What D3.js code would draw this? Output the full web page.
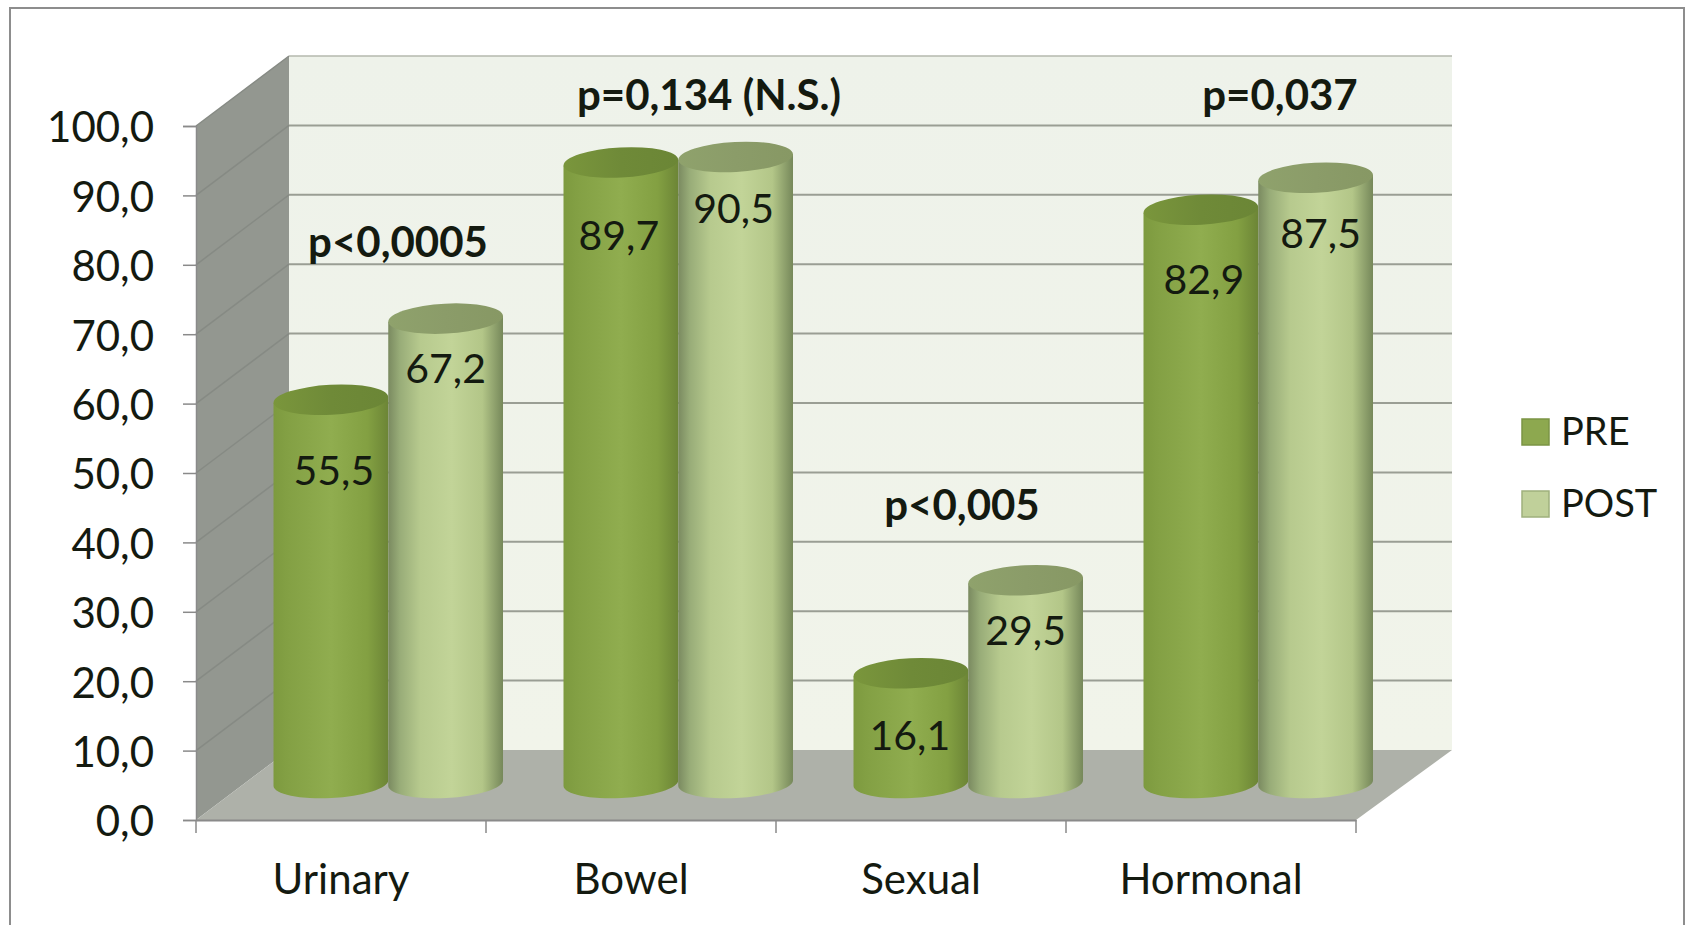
<!DOCTYPE html>
<html>
<head>
<meta charset="utf-8">
<script src="https://cdn.jsdelivr.net/npm/d3@7/dist/d3.min.js"></script>
<style>
  html, body { margin: 0; padding: 0; background: #fff; }
  svg { display: block; }
  text { font-family: Lato, "Open Sans", sans-serif; fill: #141a10; }
</style>
</head>
<body>
<svg id="chart" width="1692" height="925"></svg>
<script>
// Category and series values
const categories = ["Urinary", "Bowel", "Sexual", "Hormonal"];
const seriesNames = ["PRE", "POST"];
const preValues = [55.5, 89.7, 16.1, 82.9];
const postValues = [67.2, 90.5, 29.5, 87.5];
const yTicks = [0, 10, 20, 30, 40, 50, 60, 70, 80, 90, 100];
const pLabels = ["p<0,0005", "p=0,134 (N.S.)", "p<0,005", "p=0,037"];

const fmt = v => v.toFixed(1).replace(".", ",");

// Layout of the pseudo-3D box
const W = 1692, H = 925;
const depth = { x: 93, y: -70 };
const backRightExtra = 3;
const svg = d3.select("#chart");
const x = d3.scaleBand().domain(categories).range([196, 1356]);
const y = d3.scaleLinear().domain([0, 100]).range([820, 126]);
const inner = d3.scaleBand().domain(seriesNames).range([31, 260.5]);

const defs = svg.append("defs");
function hGrad(id, stops) {
  const g = defs.append("linearGradient").attr("id", id);
  stops.forEach(([o, c]) => g.append("stop").attr("offset", o).attr("stop-color", c));
}
hGrad("gPRE", [[0, "#7d9a3f"], [0.12, "#83a044"], [0.5, "#90ad4f"], [0.82, "#83a042"], [1, "#6c8536"]]);
hGrad("gPOST", [[0, "#7a8a60"], [0.1, "#98ac78"], [0.28, "#b7ca8e"], [0.55, "#c2d498"], [0.82, "#b3c688"], [1, "#76885a"]]);
hGrad("gCapPRE", [[0, "#7a963c"], [0.5, "#6f8a38"], [1, "#6b8636"]]);
hGrad("gCapPOST", [[0, "#8fa26c"], [0.5, "#8b9c69"], [1, "#879864"]]);
const wall = defs.append("linearGradient").attr("id", "gWall").attr("x1", 0).attr("x2", 0).attr("y1", 0).attr("y2", 1);
wall.append("stop").attr("offset", 0).attr("stop-color", "#eef2ea");
wall.append("stop").attr("offset", 1).attr("stop-color", "#f1f4ea");

// Outer frame, open along the bottom edge
svg.append("path")
  .attr("d", `M10,${H}V8H1684V${H}`)
  .attr("fill", "none").attr("stroke", "#8d8d8d").attr("stroke-width", 2);

const x0 = x.range()[0], x1 = x.range()[1];
const pt = (px, v, back) => [px + (back ? depth.x : 0), y(v) + (back ? depth.y : 0)];
const poly = pts => "M" + pts.map(p => p.join(",")).join("L") + "Z";
const xBackRight = x1 + backRightExtra;

// Side wall, back wall, floor
svg.append("path").attr("fill", "#939790")
  .attr("d", poly([pt(x0, 0), pt(x0, 100), pt(x0, 100, true), pt(x0, 0, true)]));
svg.append("path").attr("fill", "url(#gWall)")
  .attr("d", poly([pt(x0, 0, true), pt(x0, 100, true), pt(xBackRight, 100, true), pt(xBackRight, 0, true)]));
svg.append("path").attr("fill", "#aeb1a9")
  .attr("d", poly([pt(x0, 0), pt(x0, 0, true), pt(xBackRight, 0, true), pt(x1, 0)]));

// Gridlines running along the side wall and across the back wall
const gridColor = "#9a9e94";
yTicks.forEach(t => {
  const a = pt(x0, t), b = pt(x0, t, true), c = pt(xBackRight, t, true);
  if (t > 0) {
    svg.append("line").attr("x1", a[0]).attr("y1", a[1]).attr("x2", b[0]).attr("y2", b[1])
      .attr("stroke", "#868a84").attr("stroke-width", 1.5);
  }
  if (t > 0 && t < 100) {
    svg.append("line").attr("x1", b[0]).attr("y1", b[1]).attr("x2", c[0]).attr("y2", c[1])
      .attr("stroke", gridColor).attr("stroke-width", 2);
  }
});
svg.append("line").attr("x1", pt(x0, 100, true)[0]).attr("x2", pt(xBackRight, 100, true)[0])
  .attr("y1", pt(x0, 100, true)[1]).attr("y2", pt(xBackRight, 100, true)[1])
  .attr("stroke", "#b4b8ae").attr("stroke-width", 1.5);

// Axes
const axisColor = "#8a8a8a";
const yAxis = svg.append("g").attr("transform", `translate(${x0},0)`)
  .call(d3.axisLeft(y).tickValues(yTicks).tickFormat(fmt).tickSize(13).tickPadding(29));
yAxis.select(".domain").attr("stroke", axisColor).attr("stroke-width", 1.5);
yAxis.selectAll(".tick line").attr("stroke", axisColor).attr("stroke-width", 1.5);
yAxis.selectAll("text").attr("font-size", 42).attr("dy", "0.38em");

const xAxis = svg.append("g").attr("transform", `translate(0,${y(0)})`)
  .call(d3.axisBottom(x).tickSize(0).tickPadding(44));
xAxis.select(".domain").attr("stroke", axisColor).attr("stroke-width", 2);
xAxis.selectAll("text").attr("font-size", 42).attr("dy", "0.71em");
const xTickPositions = categories.map(c => x(c)).concat([x1]);
svg.append("g").selectAll("line").data(xTickPositions).join("line")
  .attr("x1", d => d).attr("x2", d => d)
  .attr("y1", y(0)).attr("y2", y(0) + 13)
  .attr("stroke", axisColor).attr("stroke-width", 1.5);

// Value label placement below each cap, per bar
const preLabelDrop = [71, 73, 62, 70];
const postLabelDrop = [50, 52, 50, 56];
const preLabelShift = [3, -2, -1, 3];
const postLabelShift = [0, -2, 0, 5];

// Cylinders: shaft plus a slightly tilted elliptical cap
const ry = 15, tilt = -3;
const rows = [];
categories.forEach((c, i) => {
  rows.push({ c, s: "PRE", v: preValues[i], drop: preLabelDrop[i], shift: preLabelShift[i] });
  rows.push({ c, s: "POST", v: postValues[i], drop: postLabelDrop[i], shift: postLabelShift[i] });
});
const cyl = svg.append("g").selectAll("g").data(rows).join("g")
  .attr("transform", d => `translate(${x(d.c) + inner(d.s) + depth.x / 2},${depth.y / 2})`);
const bw = inner.bandwidth();
const rx = bw / 2;
cyl.append("path")
  .attr("fill", d => `url(#g${d.s})`)
  .attr("d", d => {
    const lift = rx * Math.tan(-tilt * Math.PI / 180);
    return `M0,${y(d.v) + lift}V${y(0) + lift - 2}` +
      `A${rx},${ry} ${tilt} 0 0 ${bw},${y(0) - lift - 2}` +
      `V${y(d.v) - lift}Z`;
  });
cyl.append("ellipse")
  .attr("cx", rx).attr("cy", d => y(d.v)).attr("rx", rx).attr("ry", ry)
  .attr("transform", d => `rotate(${tilt},${rx},${y(d.v)})`)
  .attr("fill", d => `url(#gCap${d.s})`);

// Value labels inside the shafts
cyl.append("text")
  .attr("x", d => rx + d.shift)
  .attr("y", d => y(d.v) + d.drop)
  .attr("dy", "0.35em").attr("text-anchor", "middle").attr("font-size", 41)
  .text(d => fmt(d.v));

// Significance notes above each group, placed on the value scale
const pLevels = [83.2, 104.4, 45.3, 104.4];
const pShift = [57, 78, 41, 69];
svg.append("g").selectAll("text").data(categories).join("text")
  .attr("x", (c, i) => x(c) + x.bandwidth() / 2 + pShift[i])
  .attr("y", (c, i) => y(pLevels[i]))
  .attr("dy", "0.35em").attr("text-anchor", "middle")
  .attr("font-size", 42).attr("font-weight", 700)
  .text((c, i) => pLabels[i]);

// Legend
const legendY = d3.scalePoint().domain(seriesNames).range([432, 504]);
const legend = svg.append("g").selectAll("g").data(seriesNames).join("g")
  .attr("transform", d => `translate(1522,${legendY(d)})`);
legend.append("rect")
  .attr("x", 0).attr("y", -13).attr("width", 27).attr("height", 26)
  .attr("fill", (d, i) => i ? "#c0d09a" : "#8da84f")
  .attr("stroke", (d, i) => i ? "#9fb07c" : "#7b9444").attr("stroke-width", 1.5);
legend.append("text")
  .attr("x", 39).attr("dy", "0.35em").attr("font-size", 38)
  .text(d => d);
</script>
</body>
</html>
